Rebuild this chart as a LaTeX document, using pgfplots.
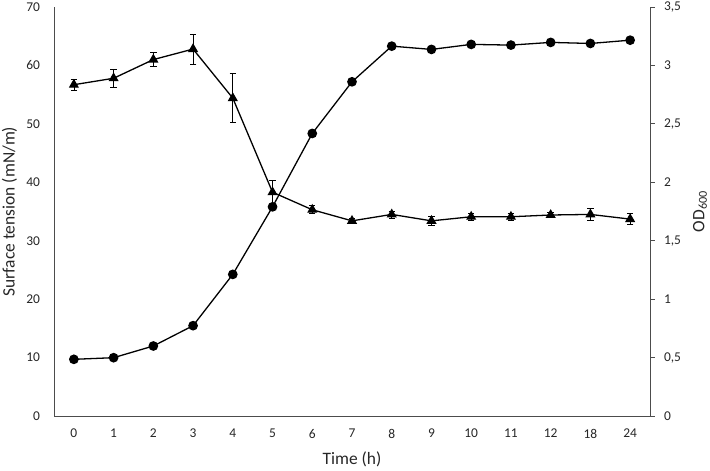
\documentclass[border=0pt]{standalone}
\usepackage{pgfplots}
\pgfplotsset{compat=1.18}
\usepackage{pgfplotstable}
\usepackage{fontspec}
\setmainfont{Carlito}

% surface tension (left axis), mean and error
\pgfplotstableread{
t   st    err
0   56.7  0.9
1   57.8  1.6
2   61.0  1.2
3   62.8  2.6
4   54.4  4.2
5   38.3  2.0
6   35.3  0.7
7   33.4  0.4
8   34.5  0.6
9   33.4  0.8
10  34.1  0.6
11  34.1  0.6
12  34.4  0.4
13  34.5  1.0
14  33.7  0.9
}\tension

% OD600 (right axis)
\pgfplotstableread{
t   od
0   0.485
1   0.499
2   0.599
3   0.773
4   1.212
5   1.790
6   2.418
7   2.860
8   3.165
9   3.137
10  3.180
11  3.174
12  3.197
13  3.188
14  3.216
}\growth

\begin{document}
\begin{tikzpicture}
\useasboundingbox (-54bp,-55bp) rectangle (656bp,416bp);

\pgfplotsset{
  base/.style={
    scale only axis, width=596bp, height=409bp,
    xmin=-0.5, xmax=14.5,
    axis line style={black!70, line width=0.8pt, -},
    ticklabel style={font=\fontsize{13.5}{16}\selectfont, text=black!85},
    /pgf/number format/assume math mode=true,
    clip=false,
  },
}

\begin{axis}[base,
  ymin=0, ymax=70,
  axis x line*=bottom, axis y line*=left,
  xtick={0,...,14},
  xticklabels={0,1,2,3,4,5,6,7,8,9,10,11,12,18,24},
  ytick={0,10,...,70},
  major tick length=0pt,
  yticklabel style={xshift=-10.5bp},
  xticklabel style={yshift=-9.5bp},
]
\addplot[black, line width=1.3pt, mark=triangle*, mark size=4.6pt,
  mark options={fill=black},
  error bars/.cd, y dir=both, y explicit,
  error bar style={line width=0.7pt, black},
  error mark options={rotate=90, mark size=3.2pt, line width=0.7pt, black}]
  table[x=t, y=st, y error=err] {\tension};
\end{axis}

\begin{axis}[base,
  ymin=0, ymax=3.5,
  axis x line=none, axis y line*=right,
  ytick={0,0.5,...,3.5},
  yticklabels={0,{0,5},1,{1,5},2,{2,5},3,{3,5}},
  tick align=outside,
  major tick length=4.5bp,
  ytick style={black!70, line width=0.8pt},
  yticklabel style={xshift=6bp},
]
\addplot[black, line width=1.3pt, mark=*, mark size=4.2pt, mark options={fill=black}]
  table[x=t, y=od] {\growth};
\end{axis}

\node[rotate=90, font=\fontsize{17.5}{20}\selectfont, text=black!85] at (-44.5bp,204.5bp) {Surface tension (mN/m)};
\node[rotate=90, font=\fontsize{17.5}{20}\selectfont, text=black!85] at (646bp,204.5bp) {OD\textsubscript{600}};
\node[font=\fontsize{17.5}{20}\selectfont, text=black!85] at (298bp,-43bp) {Time (h)};
\end{tikzpicture}
\end{document}
